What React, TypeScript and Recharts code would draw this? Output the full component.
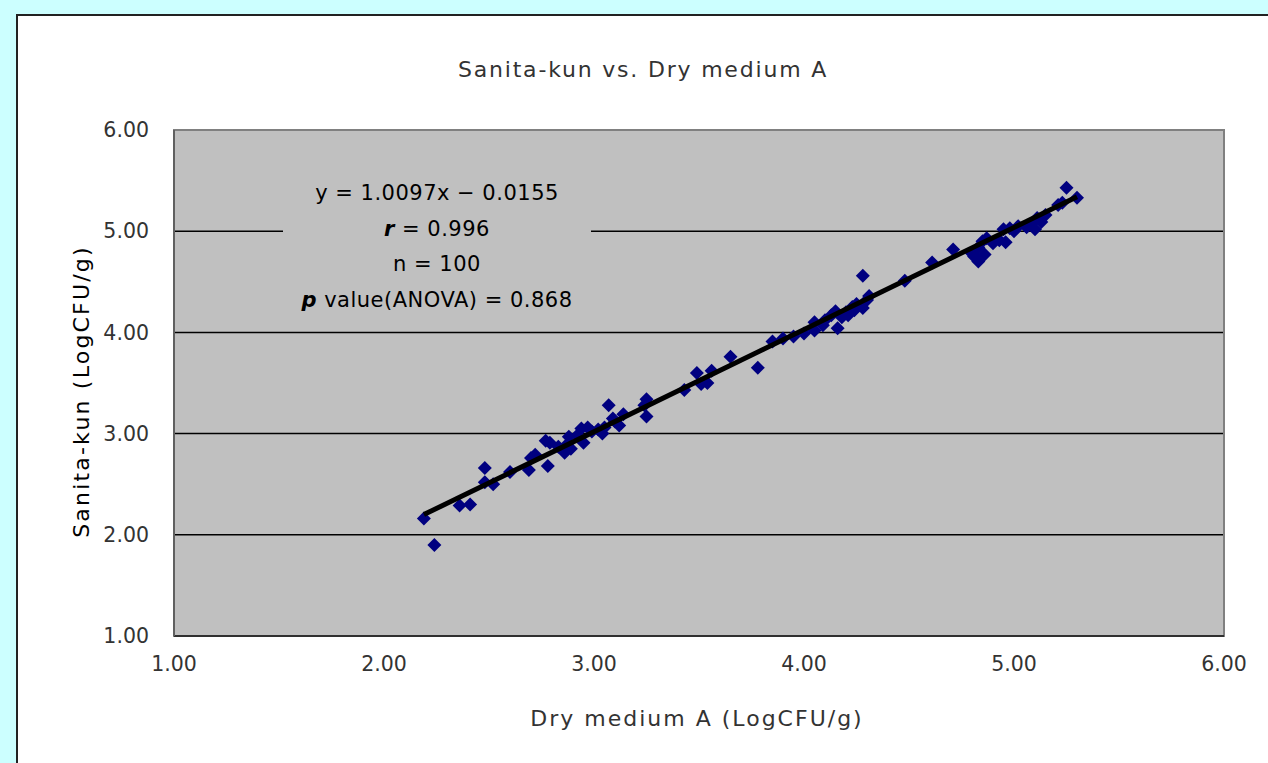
import React from 'react';
import { ScatterChart, Scatter, XAxis, YAxis, CartesianGrid, ReferenceArea } from 'recharts';

const xValues = [
  2.19, 2.24, 2.36, 2.41, 2.48, 2.48, 2.52, 2.60, 2.69, 2.70,
  2.72, 2.77, 2.78, 2.79, 2.86, 2.88, 2.87, 2.89, 2.94, 2.95,
  2.97, 2.99, 3.02, 3.04, 3.07, 3.09, 3.10, 3.12, 3.14, 3.25,
  3.25, 3.24, 3.43, 3.49, 3.51, 3.54, 3.56, 3.65, 3.78, 3.85,
  3.90, 3.95, 4.00, 4.05, 4.09, 4.05, 4.13, 4.15, 4.16, 4.18,
  4.20, 4.23, 4.25, 4.24, 4.28, 4.28, 4.30, 4.31, 4.48, 4.61,
  4.71, 4.80, 4.81, 4.83, 4.83, 4.85, 4.86, 4.87, 4.93, 4.95,
  4.96, 4.98, 5.02, 5.06, 5.08, 5.10, 5.11, 5.15, 5.21, 5.25,
  5.30, 5.23, 2.83, 2.92, 3.05, 5.13, 4.21, 4.10, 4.90, 5.00,
];
const yValues = [
  2.16, 1.90, 2.29, 2.30, 2.66, 2.52, 2.50, 2.62, 2.64, 2.76,
  2.79, 2.93, 2.68, 2.91, 2.81, 2.97, 2.89, 2.85, 3.05, 2.91,
  3.06, 3.02, 3.04, 3.00, 3.28, 3.15, 3.12, 3.08, 3.19, 3.17,
  3.34, 3.28, 3.43, 3.60, 3.49, 3.50, 3.62, 3.76, 3.65, 3.91,
  3.94, 3.96, 3.99, 4.10, 4.07, 4.02, 4.17, 4.21, 4.04, 4.15,
  4.20, 4.25, 4.28, 4.22, 4.56, 4.24, 4.32, 4.36, 4.51, 4.69,
  4.82, 4.78, 4.75, 4.84, 4.70, 4.90, 4.77, 4.93, 4.91, 5.02,
  4.89, 5.03, 5.05, 5.04, 5.07, 5.02, 5.13, 5.16, 5.26, 5.43,
  5.33, 5.28, 2.87, 2.98, 3.06, 5.09, 4.17, 4.12, 4.88, 5.00,
];
const trendX = [2.19, 5.30];
const trendY = [2.20, 5.34];
const ticks = [1, 2, 3, 4, 5, 6];

const points = xValues.map((x, i) => ({ x, y: yValues[i] }));
const trend = trendX.map((x, i) => ({ x, y: trendY[i] }));

const FONT = '"DejaVu Sans", "Liberation Sans", sans-serif';

const Diamond = (props: any) => {
  const { cx, cy } = props;
  if (cx == null || cy == null) return <g />;
  const r = 7;
  return (
    <path
      d={`M${cx},${cy - r}L${cx + r},${cy}L${cx},${cy + r}L${cx - r},${cy}Z`}
      fill="#000080"
    />
  );
};

const NoShape = () => <g />;

export default function App() {
  return (
    <div style={{ position: 'absolute', left: 0, top: 0, width: 1268, height: 763, background: '#CCFFFF', overflow: 'hidden', fontFamily: FONT }}>
      <div style={{ position: 'absolute', left: 16, top: 14, width: 1300, height: 800, background: '#fff', borderLeft: '2px solid #222', borderTop: '2px solid #222' }} />
      <div style={{ position: 'absolute', left: 0, top: 0 }}>
        <ScatterChart width={1268} height={763} margin={{ top: 130, right: 44, bottom: 67, left: 114 }}>
          <CartesianGrid vertical={false} fill="#C0C0C0" stroke="#000" strokeWidth={1.5} fillOpacity={1} />
          <ReferenceArea x1={1} x2={6} y1={1} y2={6} fill="none" stroke="#808080" strokeWidth={2} ifOverflow="visible" />
          <XAxis
            type="number"
            dataKey="x"
            domain={[1, 6]}
            ticks={ticks}
            tickFormatter={(v: number) => v.toFixed(2)}
            tickLine={false}
            tickSize={0}
            tickMargin={20}
            height={60}
            axisLine={{ stroke: '#303030', strokeWidth: 2 }}
            tick={{ fill: '#333', fontSize: 20.5, fontFamily: FONT }}
            allowDataOverflow
          />
          <YAxis
            type="number"
            dataKey="y"
            domain={[1, 6]}
            ticks={ticks}
            tickFormatter={(v: number) => v.toFixed(2)}
            tickLine={false}
            tickSize={0}
            tickMargin={25}
            width={60}
            axisLine={{ stroke: '#606060', strokeWidth: 2 }}
            tick={{ fill: '#333', fontSize: 20.5, fontFamily: FONT }}
            allowDataOverflow
          />
          <Scatter data={points} shape={<Diamond />} isAnimationActive={false} />
          <Scatter data={trend} shape={<NoShape />} line={{ stroke: '#000', strokeWidth: 5 }} isAnimationActive={false} />
        </ScatterChart>
      </div>
      <div style={{ position: 'absolute', left: 0, width: 1286, top: 57, textAlign: 'center', fontSize: 22, letterSpacing: 1.8, color: '#333' }}>
        Sanita-kun vs. Dry medium A
      </div>
      <div style={{ position: 'absolute', left: 397, width: 600, top: 706, textAlign: 'center', fontSize: 22, letterSpacing: 2, color: '#333' }}>
        Dry medium A (LogCFU/g)
      </div>
      <div style={{ position: 'absolute', left: 81, top: 393, width: 0, height: 0 }}>
        <div style={{ position: 'absolute', left: -200, top: -14, width: 400, textAlign: 'center', fontSize: 22, letterSpacing: 2.2, color: '#000', transform: 'rotate(-90deg)', whiteSpace: 'nowrap' }}>
          Sanita-kun (LogCFU/g)
        </div>
      </div>
      <div style={{ position: 'absolute', left: 283, top: 176, width: 308, height: 142, background: '#C0C0C0', textAlign: 'center', fontSize: 21, letterSpacing: 0.5, color: '#000', lineHeight: '35.5px' }}>
        <div>y = 1.0097x − 0.0155</div>
        <div><b><i>r</i></b> = 0.996</div>
        <div>n = 100</div>
        <div><b><i>p</i></b> value(ANOVA) = 0.868</div>
      </div>
    </div>
  );
}
